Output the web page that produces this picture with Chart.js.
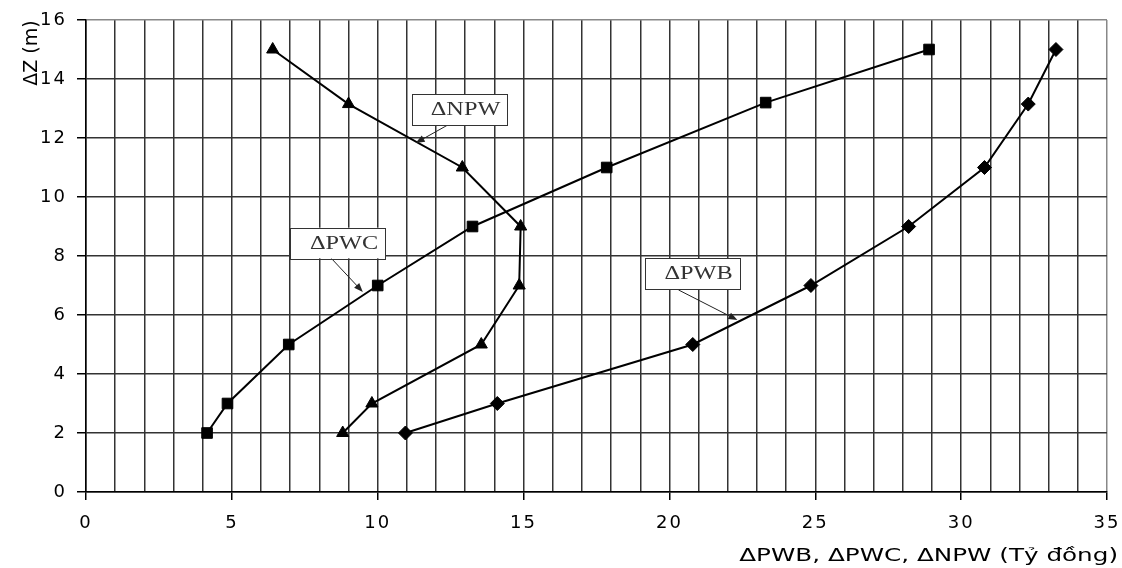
<!DOCTYPE html>
<html>
<head>
<meta charset="utf-8">
<script src="https://cdn.jsdelivr.net/npm/chart.js@4.4.1/dist/chart.umd.min.js"></script>
<style>
  html, body { margin: 0; padding: 0; background: #fff; }
  #wrap { width: 1122px; height: 568px; }
</style>
</head>
<body>
<div id="wrap"><canvas id="chart"></canvas></div>
<script>
// ΔZ (m) theo ΔPWB, ΔPWC, ΔNPW (tỷ đồng)
const PWB_X = [10.95, 14.1, 20.8, 24.85, 28.2, 30.8, 32.3, 33.25];
const PWB_Z = [2, 3, 5, 7, 9, 11, 13.15, 15];

const PWC_X = [4.15, 4.85, 6.95, 10.0, 13.25, 17.85, 23.3, 28.9];
const PWC_Z = [2, 3, 5, 7, 9, 11, 13.2, 15];

const NPW_X = [8.8, 9.8, 13.55, 14.85, 14.9, 12.9, 9.0, 6.4];
const NPW_Z = [2, 3, 5, 7, 9, 11, 13.15, 15];

const X_TICKS = [0, 5, 10, 15, 20, 25, 30, 35];
const Y_TICKS = [0, 2, 4, 6, 8, 10, 12, 14, 16];

const X_TITLE = 'ΔPWB, ΔPWC, ΔNPW (Tỷ đồng)';
const Y_TITLE = 'ΔZ (m)';

// nhãn chú thích (toạ độ theo đơn vị dữ liệu)
const CALLOUTS = [
  { text: 'ΔNPW', box: [11.17, 13.48, 14.44, 12.44], from: [12.4, 12.44], to: [11.3, 11.83] },
  { text: 'ΔPWC', box: [7.01, 8.96, 10.27, 7.92], from: [8.41, 7.92], to: [9.49, 6.78] },
  { text: 'ΔPWB', box: [19.17, 7.93, 22.42, 6.88], from: [20.31, 6.85], to: [22.33, 5.83] },
];

function toPoints(xs, zs) {
  return xs.map((x, i) => ({ x, y: zs[i] }));
}

function series(data, style, radius) {
  return {
    data,
    showLine: true,
    borderColor: '#000',
    borderWidth: 2,
    backgroundColor: '#000',
    pointStyle: style,
    pointRadius: radius,
    pointBorderWidth: 1,
    pointBorderColor: '#000',
    pointBackgroundColor: '#000',
    tension: 0,
  };
}

function drawArrow(ctx, x1, y1, x2, y2) {
  const a = Math.atan2(y2 - y1, x2 - x1);
  const len = 9, hw = 3.5;
  ctx.beginPath();
  ctx.moveTo(x1, y1);
  ctx.lineTo(x2 - Math.cos(a) * len * 0.6, y2 - Math.sin(a) * len * 0.6);
  ctx.stroke();
  ctx.beginPath();
  ctx.moveTo(x2, y2);
  ctx.lineTo(x2 - Math.cos(a) * len + Math.sin(a) * hw, y2 - Math.sin(a) * len - Math.cos(a) * hw);
  ctx.lineTo(x2 - Math.cos(a) * len - Math.sin(a) * hw, y2 - Math.sin(a) * len + Math.cos(a) * hw);
  ctx.closePath();
  ctx.fill();
}

const annotate = {
  id: 'annotate',
  beforeDraw(chart) {
    // chữ trong ảnh gốc bị kéo giãn ngang
    chart.ctx.letterSpacing = '2px';
  },
  afterDatasetsDraw(chart) {
    const { ctx, scales: { x, y } } = chart;
    ctx.save();
    ctx.letterSpacing = '0px';

    CALLOUTS.forEach(c => {
      const x1 = x.getPixelForValue(c.box[0]);
      const y1 = y.getPixelForValue(c.box[1]);
      const x2 = x.getPixelForValue(c.box[2]);
      const y2 = y.getPixelForValue(c.box[3]);

      ctx.strokeStyle = '#222';
      ctx.fillStyle = '#222';
      ctx.lineWidth = 1;
      drawArrow(ctx,
        x.getPixelForValue(c.from[0]), y.getPixelForValue(c.from[1]),
        x.getPixelForValue(c.to[0]), y.getPixelForValue(c.to[1]));

      ctx.fillStyle = '#fff';
      ctx.fillRect(x1, y1, x2 - x1, y2 - y1);
      ctx.strokeStyle = '#333';
      ctx.strokeRect(Math.round(x1) + 0.5, Math.round(y1) + 0.5, Math.round(x2 - x1), Math.round(y2 - y1));

      ctx.save();
      ctx.translate((x1 + x2) / 2 + 6, (y1 + y2) / 2 + 1);
      ctx.scale(1.35, 1);
      ctx.fillStyle = '#333';
      ctx.font = '18px "Liberation Serif", "Times New Roman", serif';
      ctx.textAlign = 'center';
      ctx.textBaseline = 'middle';
      ctx.fillText(c.text, 0, 0);
      ctx.restore();
    });

    // tiêu đề trục
    ctx.fillStyle = '#000';
    ctx.font = '17px "DejaVu Sans", sans-serif';
    ctx.save();
    ctx.translate(1118, 557);
    ctx.scale(1.45, 1);
    ctx.textAlign = 'right';
    ctx.textBaseline = 'middle';
    ctx.fillText(X_TITLE, 0, 0);
    ctx.restore();

    ctx.save();
    ctx.translate(32, 53);
    ctx.rotate(-Math.PI / 2);
    ctx.font = '19px "DejaVu Sans", sans-serif';
    ctx.textAlign = 'center';
    ctx.textBaseline = 'middle';
    ctx.fillText(Y_TITLE, 0, 0);
    ctx.restore();

    ctx.restore();
  }
};

const tickFont = { family: 'DejaVu Sans', size: 18 };

new Chart(document.getElementById('chart'), {
  type: 'scatter',
  data: {
    datasets: [
      series(toPoints(NPW_X, NPW_Z), 'triangle', 7),
      series(toPoints(PWC_X, PWC_Z), 'rect', 7.5),
      series(toPoints(PWB_X, PWB_Z), 'rectRot', 7),
    ]
  },
  options: {
    responsive: true,
    maintainAspectRatio: false,
    animation: false,
    layout: { padding: { left: 10, right: 15, top: 20, bottom: 35 } },
    plugins: { legend: { display: false }, tooltip: { enabled: false } },
    scales: {
      x: {
        type: 'linear',
        min: 0,
        max: 35,
        afterBuildTicks: s => { s.ticks = Array.from({ length: 36 }, (_, i) => ({ value: i })); },
        ticks: {
          autoSkip: false,
          maxRotation: 0,
          padding: 13,
          color: '#000',
          font: tickFont,
          callback: v => X_TICKS.includes(v) ? String(v) : '',
        },
        grid: {
          color: c => (c.tick && c.tick.value === 35) ? '#888' : '#333',
          lineWidth: 1.5,
          tickLength: 8,
          tickWidth: 1.5,
          tickColor: c => (c.tick && X_TICKS.includes(c.tick.value)) ? '#000' : 'rgba(0,0,0,0)',
        },
        border: { color: '#000', width: 1.5 },
        afterFit: s => { s.height = 41; s.paddingLeft = 0; s.paddingRight = 0; },
      },
      y: {
        min: 0,
        max: 16,
        afterBuildTicks: s => { s.ticks = Y_TICKS.map(v => ({ value: v })); },
        ticks: {
          padding: 10,
          color: '#000',
          font: tickFont,
        },
        grid: {
          color: c => (c.tick && c.tick.value === 16) ? '#888' : '#333',
          lineWidth: 1.5,
          tickLength: 9,
          tickColor: '#000',
        },
        border: { color: '#000', width: 1.5 },
        afterFit: s => { s.width = 76; s.paddingTop = 0; s.paddingBottom = 0; },
      }
    }
  },
  plugins: [annotate]
});
</script>
</body>
</html>
